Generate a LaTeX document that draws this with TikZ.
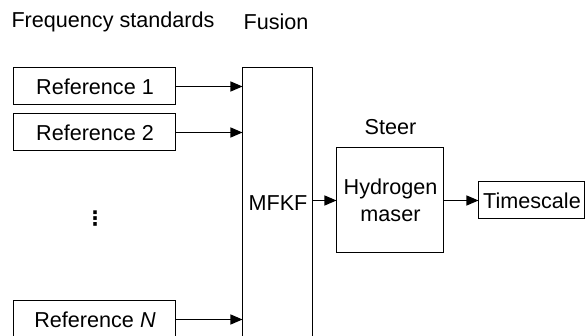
\documentclass[tikz,border=0pt]{standalone}
\usepackage{fontspec}
\setmainfont{Liberation Sans}
\newfontfamily\symfont{DejaVu Sans}
\usepackage{tikz}
\usetikzlibrary{arrows.meta,positioning}

\begin{document}
\begin{tikzpicture}[x=0.5pt, y=-0.5pt, every node/.style={font=\fontsize{10.8}{13.5}\selectfont},
    block/.style={draw, line width=0.5pt, inner sep=2pt, align=center},
    feed/.style={-{Triangle[length=6pt, width=5pt]}, line width=0.6pt}]
  \useasboundingbox (0,0) rectangle (586,336);
  % column headings
  \node (hfreq) at (113,22) {Frequency standards};
  \node (hfus) at (276,22) {Fusion};
  % references (left column)
  \node[block, minimum width=81pt, minimum height=18.5pt] (ref1) at (95,86.5) {Reference 1};
  \node[block, minimum width=81pt, minimum height=18.5pt] (ref2) at (95,132.5) {Reference 2};
  \node[block, minimum width=81pt, minimum height=18.5pt] (refn) at (95,319.5) {Reference \textit{N}};
  \node[font=\symfont\fontsize{10}{12}\selectfont\bfseries] (dots) at (95,219) {⋮};
  % fusion filter, steered maser, output
  \node[block, minimum width=35pt, minimum height=135pt] (mfkf) at (278,203) {MFKF};
  \node[block, minimum width=53.5pt, minimum height=52.5pt] (hm) at (390.5,200.5) {Hydrogen\\maser};
  \node[above=3pt of hm] (steer) {Steer};
  \node[block, minimum width=53pt, minimum height=18.5pt] (ts) at (532,200.5) {Timescale};

  \foreach \r in {ref1,ref2,refn}{
    \draw[feed] (\r.east) -- (\r.east -| mfkf.west);
  }
  \draw[feed] (mfkf.east |- hm.west) -- (hm.west);
  \draw[feed] (hm.east) -- (ts.west);
\end{tikzpicture}
\end{document}
